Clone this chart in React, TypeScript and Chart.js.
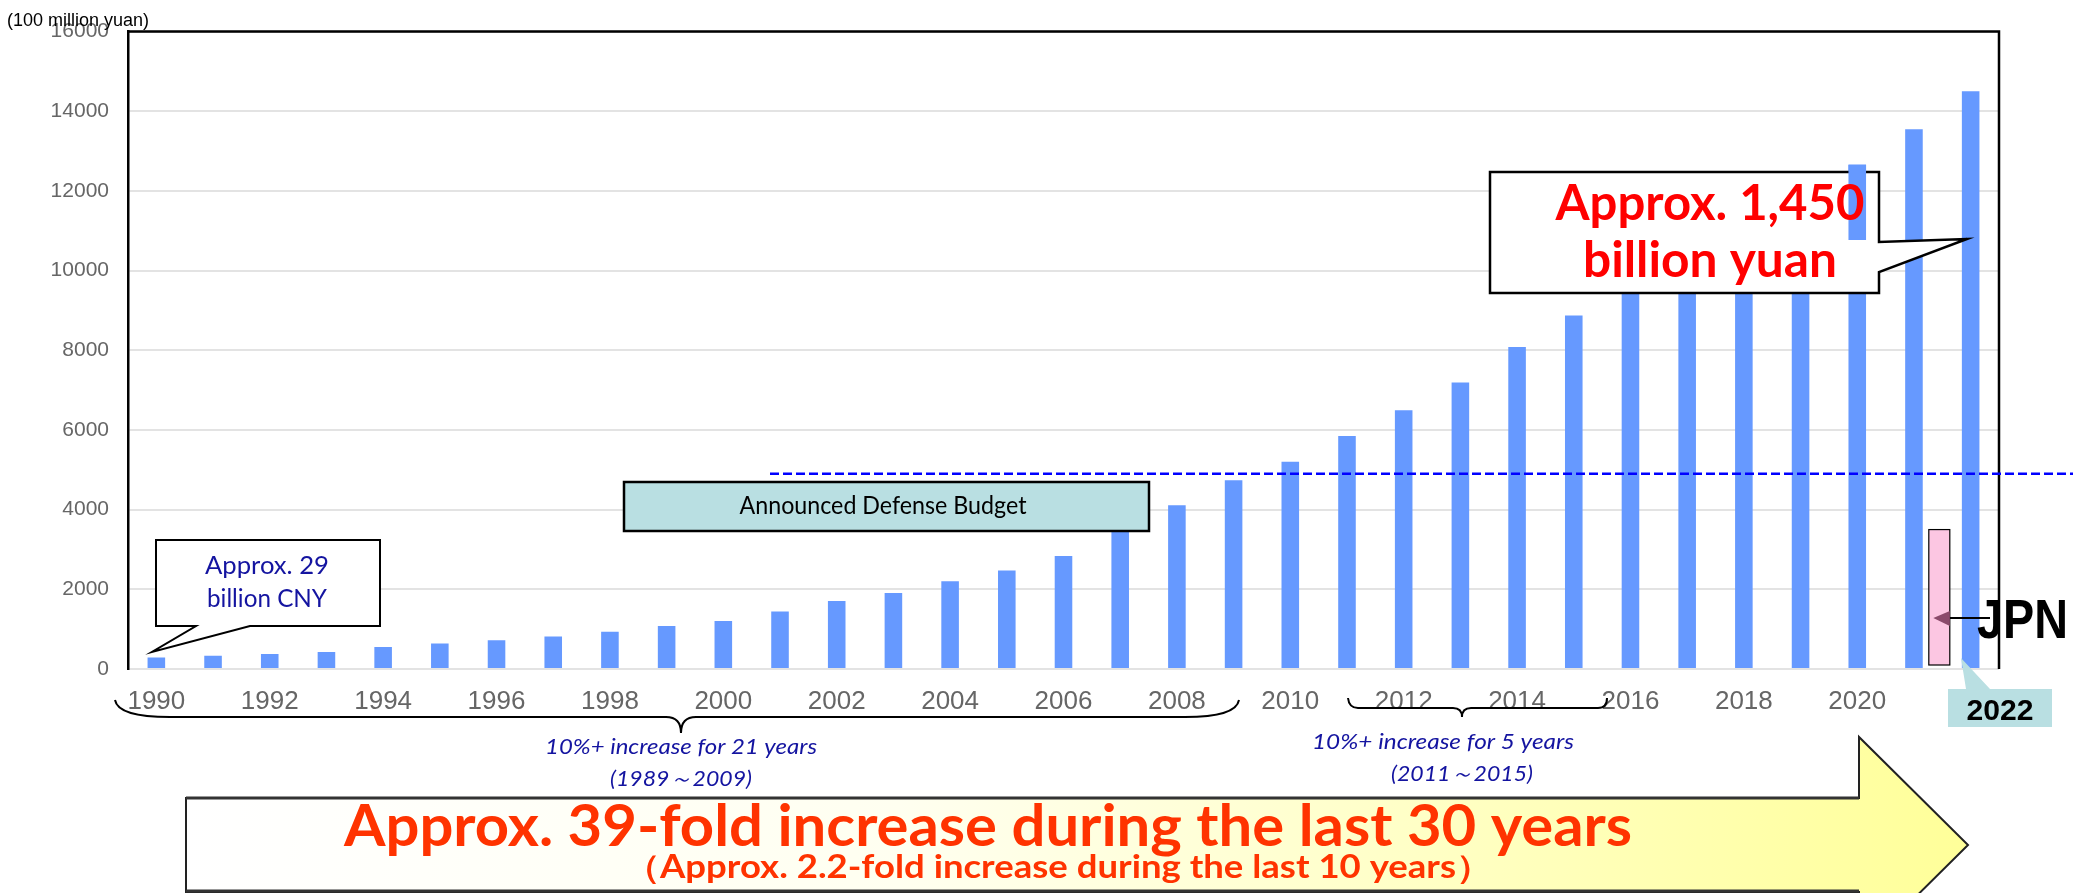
import React, { useEffect, useRef } from "react";
import { Chart, registerables } from "chart.js";

Chart.register(...registerables);

const YEARS = [
  1990, 1991, 1992, 1993, 1994, 1995, 1996, 1997, 1998, 1999, 2000, 2001, 2002, 2003, 2004, 2005, 2006,
  2007, 2008, 2009, 2010, 2011, 2012, 2013, 2014, 2015, 2016, 2017, 2018, 2019, 2020, 2021, 2022,
];
const BUDGET = [
  290, 330, 378, 426, 551, 637, 720, 813, 934, 1077, 1208, 1442, 1708, 1908, 2200, 2475, 2838,
  3555, 4110, 4735, 5200, 5850, 6496, 7190, 8082, 8876, 9543, 10444, 11070, 11899, 12660, 13550, 14500,
];
const Y_TICKS = [0, 2000, 4000, 6000, 8000, 10000, 12000, 14000, 16000];
const JPN_VALUE = 3500;
const DASH_VALUE = 4900;
const UNIT_LABEL = "(100 million yuan)";

const BAR_COLOR = "#6699ff";
const NAVY = "#1414a0";
const ORANGE = "#ff3300";

function fitText(
  ctx: CanvasRenderingContext2D,
  text: string,
  x: number,
  y: number,
  w: number,
  font: string,
  color: string,
  align: CanvasTextAlign = "center"
) {
  ctx.save();
  ctx.font = font;
  ctx.textBaseline = "alphabetic";
  const m = ctx.measureText(text).width;
  const s = w / m;
  ctx.translate(x, y);
  ctx.scale(s, 1);
  ctx.textAlign = align;
  ctx.fillStyle = color;
  ctx.fillText(text, 0, 0);
  ctx.restore();
}

const annotations = {
  id: "annotations",
  afterDraw(chart: any) {
    const ctx: CanvasRenderingContext2D = chart.ctx;
    const { left, right, top, bottom } = chart.chartArea;
    const yS = chart.scales.y;
    const xS = chart.scales.x;
    ctx.save();

    // frame top & right
    ctx.strokeStyle = "#000";
    ctx.lineWidth = 2.5;
    ctx.beginPath();
    ctx.moveTo(left, top);
    ctx.lineTo(right, top);
    ctx.lineTo(right, bottom);
    ctx.stroke();

    // dashed line
    const dy = yS.getPixelForValue(DASH_VALUE);
    ctx.save();
    ctx.strokeStyle = "#0000ff";
    ctx.lineWidth = 2.5;
    ctx.setLineDash([9, 4]);
    ctx.beginPath();
    ctx.moveTo(770, dy);
    ctx.lineTo(2073, dy);
    ctx.stroke();
    ctx.restore();

    // Announced defense budget box
    ctx.fillStyle = "#b9dfe2";
    ctx.fillRect(624, 482, 525, 49);
    ctx.strokeStyle = "#000";
    ctx.lineWidth = 2.5;
    ctx.strokeRect(624, 482, 525, 49);
    fitText(ctx, "Announced Defense Budget", 883, 514, 287, "25px Lato", "#000");

    // callout 29
    ctx.beginPath();
    ctx.moveTo(156, 540);
    ctx.lineTo(380, 540);
    ctx.lineTo(380, 626);
    ctx.lineTo(250, 626);
    ctx.lineTo(152, 652);
    ctx.lineTo(196, 626);
    ctx.lineTo(156, 626);
    ctx.closePath();
    ctx.fillStyle = "#fff";
    ctx.fill();
    ctx.lineWidth = 2;
    ctx.strokeStyle = "#000";
    ctx.stroke();
    fitText(ctx, "Approx. 29", 267, 574, 124, "25px Lato", NAVY);
    fitText(ctx, "billion CNY", 267, 607, 120, "25px Lato", NAVY);

    // callout 1450
    ctx.beginPath();
    ctx.moveTo(1490, 172);
    ctx.lineTo(1879, 172);
    ctx.lineTo(1879, 242);
    ctx.lineTo(1967, 239);
    ctx.lineTo(1879, 272);
    ctx.lineTo(1879, 293);
    ctx.lineTo(1490, 293);
    ctx.closePath();
    ctx.fillStyle = "#fff";
    ctx.fill();
    ctx.lineWidth = 2.5;
    ctx.strokeStyle = "#000";
    ctx.stroke();
    // 2020 bar showing through the callout
    const meta = chart.getDatasetMeta(0);
    const el = meta.data[YEARS.indexOf(2020)];
    if (el) {
      const p = el.getProps(["x", "y", "width"], true);
      ctx.fillStyle = BAR_COLOR;
      ctx.fillRect(p.x - p.width / 2, p.y, p.width, 240 - p.y);
    }
    fitText(ctx, "Approx. 1,450", 1710, 220, 309, "bold 50px Lato", "#ff0000");
    fitText(ctx, "billion yuan", 1710, 277, 254, "bold 50px Lato", "#ff0000");

    // JPN bar
    const x21 = xS.getPixelForValue(YEARS.indexOf(2021));
    const x22 = xS.getPixelForValue(YEARS.indexOf(2022));
    const jx = (x21 + x22) / 2 - 3;
    const jTop = yS.getPixelForValue(JPN_VALUE);
    const jBot = yS.getPixelForValue(0) - 4;
    ctx.fillStyle = "#fcc6e2";
    ctx.fillRect(jx - 10.5, jTop, 21, jBot - jTop);
    ctx.strokeStyle = "#000";
    ctx.lineWidth = 1.2;
    ctx.strokeRect(jx - 10.5, jTop, 21, jBot - jTop);
    // arrow
    ctx.strokeStyle = "#000";
    ctx.lineWidth = 2;
    ctx.beginPath();
    ctx.moveTo(jx + 10.5, 618);
    ctx.lineTo(1990, 618);
    ctx.stroke();
    ctx.fillStyle = "#8b4a6b";
    ctx.beginPath();
    ctx.moveTo(jx - 6, 618);
    ctx.lineTo(jx + 10.5, 611);
    ctx.lineTo(jx + 10.5, 626);
    ctx.closePath();
    ctx.fill();
    fitText(ctx, "JPN", 1977, 638, 91, "bold 56px 'Liberation Sans Narrow', 'Liberation Sans'", "#000", "left");

    // 2022 label box
    ctx.fillStyle = "#b9dfe2";
    ctx.beginPath();
    ctx.moveTo(1961, 658);
    ctx.lineTo(1990, 689);
    ctx.lineTo(2052, 689);
    ctx.lineTo(2052, 727);
    ctx.lineTo(1948, 727);
    ctx.lineTo(1948, 689);
    ctx.lineTo(1966, 689);
    ctx.closePath();
    ctx.fill();
    fitText(ctx, "2022", 2000, 720, 67, "bold 30px 'Liberation Sans'", "#000");

    // braces
    ctx.strokeStyle = "#000";
    ctx.lineWidth = 2;
    ctx.beginPath();
    ctx.moveTo(115, 700);
    ctx.quadraticCurveTo(118, 717, 170, 717);
    ctx.lineTo(666, 717);
    ctx.quadraticCurveTo(681, 717, 681, 733);
    ctx.quadraticCurveTo(681, 717, 696, 717);
    ctx.lineTo(1185, 717);
    ctx.quadraticCurveTo(1236, 717, 1239, 700);
    ctx.stroke();
    ctx.beginPath();
    ctx.moveTo(1348, 698);
    ctx.quadraticCurveTo(1349, 708, 1358, 708);
    ctx.lineTo(1453, 708);
    ctx.quadraticCurveTo(1462, 708, 1462, 717);
    ctx.quadraticCurveTo(1462, 708, 1471, 708);
    ctx.lineTo(1598, 708);
    ctx.quadraticCurveTo(1607, 708, 1607, 698);
    ctx.stroke();
    fitText(ctx, "10%+ increase for 21 years", 681, 754, 272, "italic 22px Lato", NAVY);
    fitText(ctx, "(1989～2009)", 681, 786, 142, "italic 22px Lato", NAVY);
    fitText(ctx, "10%+ increase for 5 years", 1443, 749, 262, "italic 22px Lato", NAVY);
    fitText(ctx, "(2011～2015)", 1462, 781, 142, "italic 22px Lato", NAVY);

    // big arrow
    const grad = ctx.createLinearGradient(186, 0, 1968, 0);
    grad.addColorStop(0, "#ffffff");
    grad.addColorStop(0.4, "#fffff0");
    grad.addColorStop(1, "#ffff99");
    ctx.beginPath();
    ctx.moveTo(186, 798);
    ctx.lineTo(1859, 798);
    ctx.lineTo(1859, 737);
    ctx.lineTo(1968, 845);
    ctx.lineTo(1859, 953);
    ctx.lineTo(1859, 892);
    ctx.lineTo(186, 892);
    ctx.closePath();
    ctx.fillStyle = grad;
    ctx.fill();
    ctx.strokeStyle = "#222";
    ctx.lineWidth = 2;
    ctx.stroke();
    ctx.lineWidth = 3;
    ctx.strokeStyle = "#333";
    ctx.beginPath();
    ctx.moveTo(186, 798);
    ctx.lineTo(1859, 798);
    ctx.moveTo(186, 891);
    ctx.lineTo(1859, 891);
    ctx.stroke();
    fitText(ctx, "Approx. 39-fold increase during the last 30 years", 988, 846, 1288, "bold 57px Lato", ORANGE);
    fitText(ctx, "（Approx. 2.2-fold increase during the last 10 years）", 1058, 878, 869, "bold 32px Lato", ORANGE);

    // unit label
    ctx.font = "18px 'Liberation Sans', Arial";
    ctx.fillStyle = "#000";
    ctx.textAlign = "left";
    ctx.textBaseline = "alphabetic";
    ctx.fillText(UNIT_LABEL, 7, 26);

    ctx.restore();
  },
};

export default function App() {
  const ref = useRef<HTMLCanvasElement | null>(null);
  useEffect(() => {
    if (!ref.current) return;
    const chart = new Chart(ref.current, {
      type: "bar",
      data: {
        labels: YEARS.map(String),
        datasets: [
          {
            data: BUDGET,
            backgroundColor: BAR_COLOR,
            barPercentage: 0.31,
            categoryPercentage: 1,
          },
        ],
      },
      options: {
        responsive: false,
        animation: false,
        layout: { padding: { top: 25, right: 74, left: 0, bottom: 0 } },
        plugins: { legend: { display: false }, tooltip: { enabled: false } },
        scales: {
          x: {
            grid: { display: false },
            border: { display: false },
            ticks: {
              autoSkip: false,
              maxRotation: 0,
              color: "#666",
              padding: 9,
              font: { size: 26, family: "'Liberation Sans', Arial" },
              callback: (_v: any, i: number) =>
                i % 2 === 0 && YEARS[i] !== 2022 ? String(YEARS[i]) : "",
            },
            afterFit: (s: any) => {
              s.height = 224;
            },
          },
          y: {
            min: Y_TICKS[0],
            max: Y_TICKS[Y_TICKS.length - 1],
            afterBuildTicks: (s: any) => {
              s.ticks = Y_TICKS.map((v) => ({ value: v }));
            },
            ticks: {
              color: "#666",
              padding: 19,
              font: { size: 21, family: "'Liberation Sans', Arial" },
              callback: (v: any) => String(v),
            },
            grid: { color: "#e3e3e3", lineWidth: 2, drawTicks: false },
            border: { display: true, color: "#000", width: 2.5 },
            afterFit: (s: any) => {
              s.width = 128;
            },
          },
        },
      },
      plugins: [annotations],
    });
    return () => chart.destroy();
  }, []);
  return (
    <div style={{ position: "absolute", left: 0, top: 0, width: 2073, height: 893, background: "#fff" }}>
      <canvas ref={ref} width={2073} height={893} style={{ display: "block" }} />
    </div>
  );
}
